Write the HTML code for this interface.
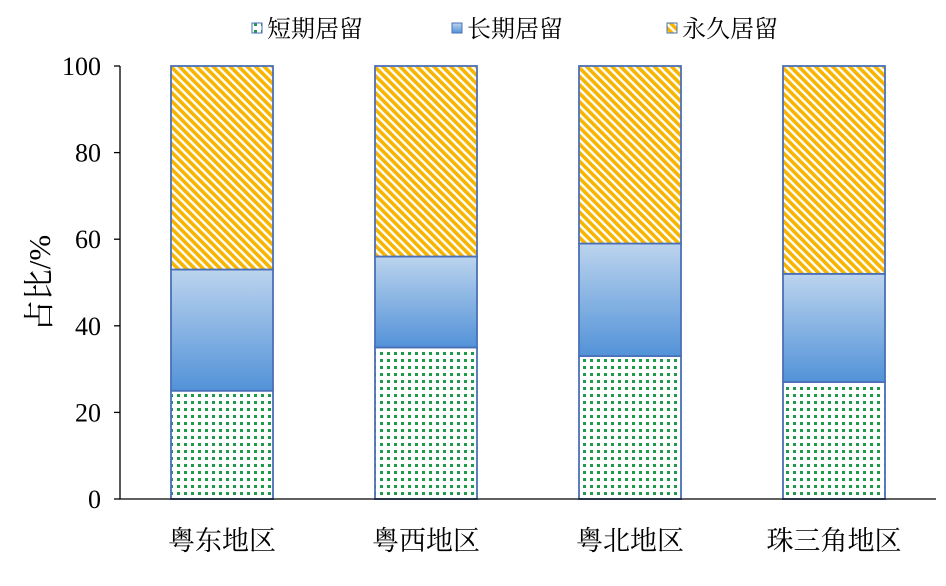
<!DOCTYPE html>
<html><head><meta charset="utf-8"><style>
body{margin:0;background:#fff}
svg text{font-family:"Liberation Serif","Noto Serif CJK SC",serif;fill:#000}
</style></head><body>
<svg width="946" height="581" xmlns="http://www.w3.org/2000/svg">
<defs>
<pattern id="dots" width="7" height="7" patternUnits="userSpaceOnUse"><rect width="7" height="7" fill="#fff"/><rect x="2" y="2" width="3" height="3" fill="#1e9a4a"/></pattern>
<linearGradient id="blue" x1="0" y1="0" x2="0" y2="1"><stop offset="0" stop-color="#bcd4ee"/><stop offset="1" stop-color="#5292d8"/></linearGradient>
<pattern id="stripes" width="6" height="6" patternUnits="userSpaceOnUse" patternTransform="rotate(-45)"><rect width="6" height="6" fill="#fff"/><rect width="3.6" height="6" fill="#f7b500"/></pattern>
</defs>
<g id="chart"></g>
</svg>
<script>
const categories=["粤东地区","粤西地区","粤北地区","珠三角地区"];
const shortStay=[25,35,33,27];
const longStay=[28,21,26,25];
const permStay=[47,44,41,48];
const yTicks=[0,20,40,60,80,100];
const seriesNames=["短期居留","长期居留","永久居留"];
const NS="http://www.w3.org/2000/svg";
const g=document.getElementById('chart');
const x0=120,x1=936,y0=499,y1=66;
const band=(x1-x0)/categories.length,bw=102;
const yS=v=>y0-(v/100)*(y0-y1);
function mk(t,a,p){const e=document.createElementNS(NS,t);for(const k in a)e.setAttribute(k,a[k]);(p||g).appendChild(e);return e;}
yTicks.forEach(v=>{
 const y=yS(v);
 const l=mk('line',{x1:x0-6,x2:x0,y1:y,y2:y,stroke:'#000','stroke-width':1.3});
 
 
 const t=mk('text',{x:101,y:y+9,'text-anchor':'end','font-size':26});t.textContent=v;
 
 
});
const fills=['url(#dots)','url(#blue)','url(#stripes)'];
const series=[shortStay,longStay,permStay];
categories.forEach((c,i)=>{
 const cx=x0+band*(i+0.5);let acc=0;
 series.forEach((s,j)=>{
  const ya=yS(acc),yb=yS(acc+s[i]);acc+=s[i];
  const r=mk('rect',{x:cx-bw/2,y:yb,width:bw,height:ya-yb,fill:fills[j],stroke:'#4a70b8','stroke-width':1.8});
  
  
 });
 const t=mk('text',{x:cx,y:550,'text-anchor':'middle','font-size':27});t.textContent=c;
 
 
});
const ax=mk('path',{d:`M${x0} ${y1}V${y0}H${x1}`,fill:'none',stroke:'#000','stroke-width':1.3});


const yt=mk('text',{transform:'translate(50,283) rotate(-90)','text-anchor':'middle','font-size':31});yt.textContent='占比/%';


const lx=[252,452,667];
seriesNames.forEach((n,j)=>{
 const gg=mk('g',{});
 
 
 mk('rect',{x:lx[j],y:23,width:10,height:10,fill:fills[j],stroke:'#4a70b8','stroke-width':1},gg);
 const t=mk('text',{x:lx[j]+15,y:37,'font-size':24},gg);t.textContent=n;
});
</script>
</body></html>
